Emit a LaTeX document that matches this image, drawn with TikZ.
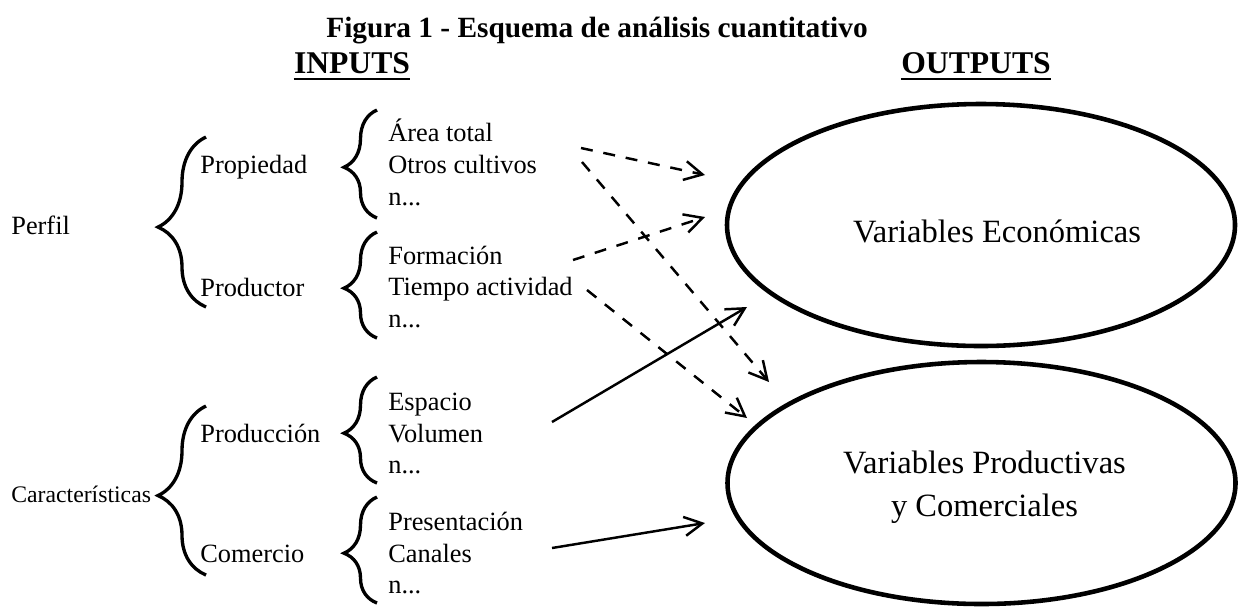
\documentclass[tikz,border=0pt]{standalone}
\usepackage{fontspec}
\setmainfont{Liberation Serif}
\usetikzlibrary{arrows.meta,shapes.geometric,decorations.pathreplacing}
\tikzset{
  txt/.style={anchor=base west, inner sep=0pt, font=\fontsize{15}{18}\selectfont},
  head/.style={anchor=base, inner sep=0pt, font=\fontsize{18}{22}\selectfont\bfseries},
  brc/.style={decorate, line width=1.9pt, decoration={brace, amplitude=#1, aspect=0.47}},
  ell/.style={draw, ellipse, line width=2.6pt, inner sep=0pt, minimum width=10.16cm,
    minimum height=4.84cm},
  etxt/.style={inner sep=0pt, align=center, font=\fontsize{18.5}{24.5}\selectfont},
  arr/.style={-{Straight Barb[length=3.6mm,width=3.8mm]}, line width=1.4pt},
  darr/.style={arr, dash pattern=on 6.8pt off 6.2pt}
}

\begin{document}
\begin{tikzpicture}
  \useasboundingbox (0,0) rectangle (24.86,-12.14);
  % titles
  \node[anchor=base, inner sep=0pt, font=\fontsize{16.7}{19}\selectfont\bfseries] (title) at (11.94,-0.74)
    {Figura 1 - Esquema de análisis cuantitativo};
  \node[head] (inp) at (7.04,-1.46) {INPUTS};
  \node[head] (outp) at (19.52,-1.46) {OUTPUTS};
  \draw[line width=1.3pt] ([yshift=-0.12cm]inp.base west) -- ([yshift=-0.12cm]inp.base east);
  \draw[line width=1.3pt] ([yshift=-0.12cm]outp.base west) -- ([yshift=-0.12cm]outp.base east);

  % left column
  \node[txt] (perfil) at (0.22,-4.68) {Perfil};
  \node[txt, font=\fontsize{13.5}{16}\selectfont] (carac) at (0.22,-10.04) {Características};
  \draw[brc=0.96cm] (4.12,-6.14) -- (4.12,-2.74);
  \draw[brc=0.96cm] (4.12,-11.50) -- (4.12,-8.12);

  \node[txt] (prop) at (4.0,-3.46) {Propiedad};
  \node[txt] (prod) at (4.0,-5.92) {Productor};
  \node[txt] (prodc) at (4.0,-8.84) {Producción};
  \node[txt] (com) at (4.0,-11.24) {Comercio};

  % item braces
  \draw[brc=0.66cm] (7.54,-4.36) -- (7.54,-2.20);
  \draw[brc=0.66cm] (7.54,-6.76) -- (7.54,-4.64);
  \draw[brc=0.66cm] (7.54,-9.66) -- (7.54,-7.54);
  \draw[brc=0.66cm] (7.54,-12.06) -- (7.54,-9.94);

  % items
  \foreach \t [count=\i] in {Área total, Otros cultivos, n.{}..}
    \node[txt] (prop\i) at (7.76,-2.18-0.64*\i) {\t};
  \foreach \t [count=\i] in {Formación, Tiempo actividad, n.{}..}
    \node[txt] (prod\i) at (7.76,-4.65-0.63*\i) {\t};
  \foreach \t [count=\i] in {Espacio, Volumen, n.{}..}
    \node[txt] (prodc\i) at (7.76,-7.58-0.63*\i) {\t};
  \foreach \t [count=\i] in {Presentación, Canales, n.{}..}
    \node[txt] (com\i) at (7.76,-9.98-0.63*\i) {\t};

  % outputs
  \node[ell] (econ) at (19.62,-4.50) {};
  \node[ell] (pc) at (19.63,-9.66) {};
  \node[etxt] (econtxt) at ([xshift=0.32cm,yshift=-0.12cm]econ.center) {Variables Económicas};
  \node[etxt] (pctxt) at ([xshift=0.06cm,yshift=-0.08cm]pc.center) {Variables Productivas\\y Comerciales};

  % arrows
  \coordinate (a1) at (11.62,-2.96);
  \coordinate (b1) at (14.10,-3.50);
  \coordinate (a2) at (11.64,-3.24);
  \coordinate (b2) at (15.38,-7.64);
  \coordinate (a3) at (11.46,-5.20);
  \coordinate (b3) at (14.10,-4.34);
  \coordinate (a4) at (11.74,-5.80);
  \coordinate (b4) at (14.94,-8.36);
  \coordinate (a5) at (11.04,-8.44);
  \coordinate (b5) at (14.94,-6.14);
  \coordinate (a6) at (11.04,-10.96);
  \coordinate (b6) at (14.10,-10.46);
  \draw[darr] (a1) -- (b1);
  \draw[darr] (a2) -- (b2);
  \draw[darr] (a3) -- (b3);
  \draw[darr] (a4) -- (b4);
  \draw[arr] (a5) -- (b5);
  \draw[arr] (a6) -- (b6);
\end{tikzpicture}
\end{document}
